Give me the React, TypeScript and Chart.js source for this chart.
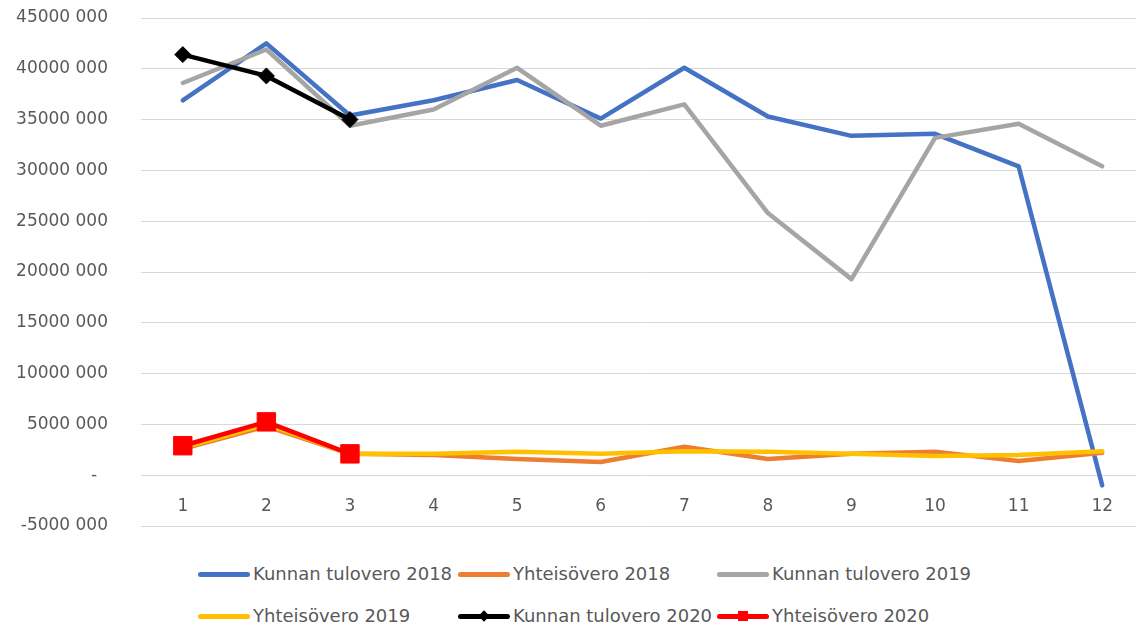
import React, { useEffect, useRef } from 'react';
import { Chart, registerables } from 'chart.js';

Chart.register(...registerables);

const months = ['1', '2', '3', '4', '5', '6', '7', '8', '9', '10', '11', '12'];

const kunnanTulovero2018 = [36900000, 42500000, 35400000, 36900000, 38900000, 35100000, 40100000, 35300000, 33400000, 33600000, 30400000, -1000000];
const yhteisovero2018 = [2600000, 4800000, 2100000, 2000000, 1600000, 1300000, 2800000, 1600000, 2100000, 2300000, 1400000, 2200000];
const kunnanTulovero2019 = [38600000, 41900000, 34400000, 36000000, 40100000, 34400000, 36500000, 25800000, 19300000, 33200000, 34600000, 30400000];
const yhteisovero2019 = [2700000, 5000000, 2100000, 2100000, 2300000, 2100000, 2350000, 2300000, 2100000, 1900000, 2000000, 2350000];
const kunnanTulovero2020 = [41400000, 39300000, 35000000];
const yhteisovero2020 = [2900000, 5250000, 2100000];

const yMin = -5000000;
const yMax = 45000000;
const yStep = 5000000;

const seriesNames = [
  'Kunnan tulovero 2018',
  'Yhteisövero 2018',
  'Kunnan tulovero 2019',
  'Yhteisövero 2019',
  'Kunnan tulovero 2020',
  'Yhteisövero 2020',
];
const seriesColors = ['#4472C4', '#ED7D31', '#A5A5A5', '#FFC000', '#000000', '#FF0000'];

const FONT = '"DejaVu Sans", sans-serif';
const TEXT_COLOR = '#595959';

function formatTick(v: number): string {
  if (v === 0) return '-  ';
  const th = Math.round(v / 1000);
  return th + ' 000';
}

export default function App() {
  const canvasRef = useRef<HTMLCanvasElement | null>(null);

  useEffect(() => {
    if (!canvasRef.current) return;
    const data = [
      kunnanTulovero2018,
      yhteisovero2018,
      kunnanTulovero2019,
      yhteisovero2019,
      kunnanTulovero2020,
      yhteisovero2020,
    ];
    const datasets = data.map((d, i) => ({
      label: seriesNames[i],
      data: d,
      borderColor: seriesColors[i],
      backgroundColor: seriesColors[i],
      borderWidth: 4.5,
      borderJoinStyle: 'round' as const,
      borderCapStyle: 'round' as const,
      tension: 0,
      order: 5 - i,
      pointRadius: i === 4 ? 8 : i === 5 ? 13 : 0,
      pointStyle: i === 4 ? 'rectRot' : 'rect',
      pointBorderWidth: 1,
      pointBorderColor: seriesColors[i],
      pointBackgroundColor: seriesColors[i],
      fill: false,
    }));

    const chart = new Chart(canvasRef.current, {
      type: 'line',
      data: { labels: months, datasets },
      options: {
        animation: false,
        responsive: false,
        maintainAspectRatio: false,
        layout: { autoPadding: false, padding: { top: 18, bottom: 14, left: 0, right: 0 } },
        plugins: { legend: { display: false }, tooltip: { enabled: false } },
        scales: {
          x: {
            type: 'category',
            offset: true,
            position: { y: 0 },
            grid: { display: false },
            border: { display: false },
            ticks: {
              color: TEXT_COLOR,
              font: { family: FONT, size: 17 },
              padding: 13,
              maxRotation: 0,
              autoSkip: false,
            },
          },
          y: {
            type: 'linear',
            min: yMin,
            max: yMax,
            afterFit: (scale: any) => {
              scale.width = 141;
              scale.paddingTop = 0;
              scale.paddingBottom = 0;
            },
            grid: { color: '#D9D9D9', lineWidth: 1, drawTicks: false },
            border: { display: false },
            ticks: {
              stepSize: yStep,
              color: TEXT_COLOR,
              font: { family: FONT, size: 17 },
              padding: 33,
              callback: (v: any) => formatTick(Number(v)),
            },
          },
        },
      },
    });
    return () => chart.destroy();
  }, []);

  const legendPos = [
    { x: 198, y: 574 },
    { x: 458, y: 574 },
    { x: 717, y: 574 },
    { x: 198, y: 616 },
    { x: 458, y: 616 },
    { x: 717, y: 616 },
  ];

  return (
    <div
      style={{
        position: 'absolute',
        left: 0,
        top: 0,
        width: 1136,
        height: 625,
        overflow: 'hidden',
        background: '#ffffff',
      }}
    >
      <canvas ref={canvasRef} width={1144} height={540} style={{ position: 'absolute', left: 0, top: 0 }} />
      {seriesNames.map((name, i) => (
        <div
          key={name}
          style={{
            position: 'absolute',
            left: legendPos[i].x,
            top: legendPos[i].y,
            transform: 'translateY(-50%)',
            display: 'flex',
            alignItems: 'center',
            whiteSpace: 'nowrap',
          }}
        >
          <div style={{ position: 'relative', width: 52, height: 12, marginRight: 3 }}>
            <div
              style={{
                position: 'absolute',
                left: 0,
                top: 4,
                width: 52,
                height: 4.5,
                borderRadius: 3,
                background: seriesColors[i],
              }}
            />
            {i === 4 && (
              <div
                style={{
                  position: 'absolute',
                  left: 22,
                  top: 2,
                  width: 8,
                  height: 8,
                  background: seriesColors[i],
                  transform: 'rotate(45deg)',
                }}
              />
            )}
            {i === 5 && (
              <div
                style={{
                  position: 'absolute',
                  left: 21,
                  top: 1,
                  width: 10,
                  height: 10,
                  background: seriesColors[i],
                }}
              />
            )}
          </div>
          <span style={{ fontFamily: FONT, fontSize: 18, color: TEXT_COLOR, lineHeight: '20px' }}>{name}</span>
        </div>
      ))}
    </div>
  );
}
